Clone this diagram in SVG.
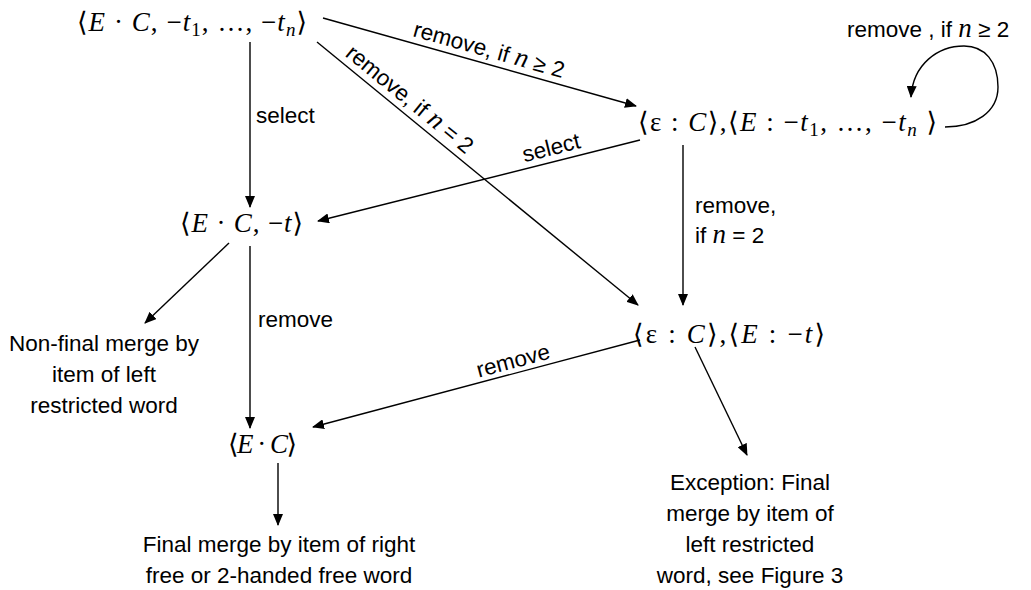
<svg xmlns="http://www.w3.org/2000/svg" width="1031" height="590" viewBox="0 0 1031 590">
<style>
.lbl{font-family:"Liberation Sans",Arial,sans-serif;font-size:22.5px;fill:#000}
.math{font-family:"Liberation Serif","DejaVu Serif","DejaVu Sans",serif;font-size:27px;fill:#000}
.it{font-style:italic;font-family:"Liberation Serif","DejaVu Serif",serif}
.sub{font-size:19px}
.c{text-anchor:middle}
.edge{stroke:#000;stroke-width:1.4;fill:none}
</style>
<defs>
<marker id="ah" markerUnits="userSpaceOnUse" markerWidth="12" markerHeight="10" refX="11" refY="5" orient="auto">
<path d="M0,0 L12,5 L0,10 Z" fill="#000"/>
</marker>
</defs>
<rect width="1031" height="590" fill="#fff"/>
<g id="connectors">
<path class="edge" d="M323,18 L636,106" marker-end="url(#ah)"/>
<path class="edge" d="M317,42 L638,305" marker-end="url(#ah)"/>
<path class="edge" d="M250,42 L250,207" marker-end="url(#ah)"/>
<path class="edge" d="M640,140 L318,221" marker-end="url(#ah)"/>
<path class="edge" d="M945,127 C975,127 998,112 998,87 C998,62 985,46 964,46 C938,46 913,64 911,97" marker-end="url(#ah)"/>
<path class="edge" d="M683,145 L683,305" marker-end="url(#ah)"/>
<path class="edge" d="M229,243 L145,323" marker-end="url(#ah)"/>
<path class="edge" d="M250,246 L250,428" marker-end="url(#ah)"/>
<path class="edge" d="M640,340 L313,427" marker-end="url(#ah)"/>
<path class="edge" d="M695,347 L747,455" marker-end="url(#ah)"/>
<path class="edge" d="M278,463 L278,525" marker-end="url(#ah)"/>
<text class="lbl c" transform="translate(487,57) rotate(15.7)">remove, if <tspan class="it" font-size="27">n</tspan> ≥ 2</text>
<text class="lbl c" transform="translate(405,105) rotate(39.3)">remove, if <tspan class="it" font-size="27">n</tspan> = 2</text>
<text class="lbl c" transform="translate(553,155) rotate(-14.1)">select</text>
<text class="lbl c" transform="translate(515,368) rotate(-14.9)">remove</text>
<text class="lbl" x="256" y="123">select</text>
<text class="lbl" x="258" y="327">remove</text>
<text class="lbl" x="695" y="213">remove,</text>
<text class="lbl" x="695" y="243">if <tspan class="it" font-size="27">n</tspan> = 2</text>
<text class="lbl" x="847" y="37">remove , if <tspan class="it" font-size="27">n</tspan> ≥ 2</text>
</g>
<g id="n1">
<text class="math" x="77" y="31" textLength="230" lengthAdjust="spacing">⟨<tspan class="it">E</tspan> · <tspan class="it">C</tspan>, −<tspan class="it">t</tspan><tspan class="sub" dy="5">1</tspan><tspan dy="-5">, …, −</tspan><tspan class="it">t</tspan><tspan class="sub it" dy="5">n</tspan><tspan dy="-5">⟩</tspan></text>
</g>
<g id="n2">
<text class="math" x="638" y="131" textLength="299" lengthAdjust="spacing">⟨ε : <tspan class="it">C</tspan>⟩,⟨<tspan class="it">E</tspan> : −<tspan class="it">t</tspan><tspan class="sub" dy="5">1</tspan><tspan dy="-5">, …, −</tspan><tspan class="it">t</tspan><tspan class="sub it" dy="5">n</tspan><tspan dy="-5"> ⟩</tspan></text>
</g>
<g id="n3">
<text class="math" x="180" y="232" textLength="123" lengthAdjust="spacing">⟨<tspan class="it">E</tspan> · <tspan class="it">C</tspan>, −<tspan class="it">t</tspan>⟩</text>
</g>
<g id="n4">
<text class="math" x="633" y="343" textLength="192" lengthAdjust="spacing">⟨ε : <tspan class="it">C</tspan>⟩,⟨<tspan class="it">E</tspan> : −<tspan class="it">t</tspan>⟩</text>
</g>
<g id="n5">
<text class="math" x="228" y="453" textLength="69" lengthAdjust="spacing">⟨<tspan class="it">E</tspan> · <tspan class="it">C</tspan>⟩</text>
</g>
<g id="t-nonfinal">
<text class="lbl c" x="104" y="351">Non-final merge by</text>
<text class="lbl c" x="104" y="382">item of left</text>
<text class="lbl c" x="104" y="413">restricted word</text>
</g>
<g id="t-final">
<text class="lbl c" x="279" y="552">Final merge by item of right</text>
<text class="lbl c" x="279" y="583">free or 2-handed free word</text>
</g>
<g id="t-exception">
<text class="lbl c" x="750" y="490">Exception: Final</text>
<text class="lbl c" x="750" y="521">merge by item of</text>
<text class="lbl c" x="750" y="552">left restricted</text>
<text class="lbl c" x="750" y="583">word, see Figure 3</text>
</g>
</svg>
